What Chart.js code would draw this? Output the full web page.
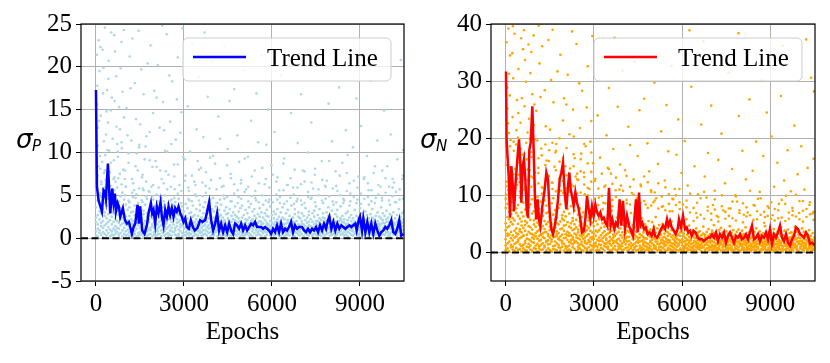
<!DOCTYPE html>
<html>
<head>
<meta charset="utf-8">
<script src="https://cdn.jsdelivr.net/npm/chart.js@4.4.1/dist/chart.umd.min.js"></script>
<style>
  html, body { margin: 0; padding: 0; background: #fff; }
  #wrap { position: relative; width: 830px; height: 363px; }
  canvas { position: absolute; top: 0; }
  #leftChart { left: 0; }
  #rightChart { left: 415px; }
</style>
</head>
<body>
<div id="wrap">
  <canvas id="leftChart" width="415" height="363"></canvas>
  <canvas id="rightChart" width="415" height="363"></canvas>
</div>
<script>
// tick labels
const epochTicks = [0, 3000, 6000, 9000];
const posTicks = [-5, 0, 5, 10, 15, 20, 25];
const negTicks = [0, 10, 20, 30, 40];

// sigma_P trend line (epoch, value)
const posTrendEpochs = [0, 33, 90, 203, 260, 305, 339, 408, 487, 555, 600, 646, 680, 737, 782, 828, 884, 918, 987, 1055,
  1123, 1168, 1225, 1282, 1338, 1418, 1463, 1508, 1577, 1656, 1736, 1792, 1872, 1917, 1962, 2019, 2076, 2133, 2201, 2247,
  2303, 2360, 2417, 2474, 2530, 2587, 2644, 2701, 2757, 2814, 2871, 2928, 2984, 3041, 3098, 3166, 3234, 3302, 3370, 3460,
  3551, 3631, 3722, 3790, 3858, 3926, 3994, 4062, 4130, 4198, 4266, 4334, 4403, 4471, 4539, 4607, 4675, 4743, 4811, 4879,
  4947, 5015, 5084, 5152, 5220, 5288, 5356, 5424, 5492, 5560, 5628, 5696, 5765, 5833, 5901, 5969, 6037, 6105, 6173, 6241,
  6309, 6377, 6446, 6514, 6582, 6650, 6718, 6786, 6854, 6922, 7025, 7093, 7161, 7229, 7297, 7366, 7434, 7502, 7570, 7638,
  7706, 7774, 7842, 7910, 7956, 8024, 8092, 8160, 8228, 8296, 8364, 8433, 8501, 8569, 8637, 8705, 8773, 8841, 8887, 8955,
  9000, 9068, 9114, 9182, 9250, 9318, 9386, 9454, 9522, 9590, 9658, 9726, 9795, 9863, 9931, 9999, 10067, 10135, 10203, 10271,
  10339, 10407, 10475];
const posTrendValues = [17.3, 6.0, 4.4, 3.1, 5.6, 5.4, 4.6, 8.7, 2.9, 5.8, 4.1, 5.2, 3.1, 4.1, 3.7, 2.5, 3.1, 3.5, 2.1, 1.7,
  1.9, 1.3, 0.5, 1.3, 1.7, 3.9, 1.7, 3.7, 0.9, 0.5, 1.5, 2.9, 4.1, 2.9, 3.3, 1.7, 3.7, 2.9, 4.2, 2.5,
  1.5, 3.3, 2.5, 3.7, 2.7, 3.5, 2.5, 3.5, 3.1, 3.7, 2.9, 2.5, 1.9, 2.3, 1.3, 1.1, 2.1, 1.3, 0.9, 1.2,
  2.1, 1.9, 2.1, 3.1, 4.2, 2.1, 0.9, 1.7, 2.9, 0.9, 1.7, 0.7, 1.5, 0.7, 1.7, 0.9, 0.5, 1.7, 1.5, 1.1,
  1.7, 0.9, 1.5, 0.9, 1.3, 1.7, 1.5, 1.9, 1.3, 1.3, 1.3, 1.1, 1.3, 1.1, 0.9, 0.5, 1.1, 0.7, 1.5, 0.7,
  1.7, 0.7, 1.1, 0.9, 1.3, 1.9, 0.7, 1.5, 1.1, 1.3, 1.3, 0.9, 0.7, 1.1, 0.7, 1.1, 0.9, 1.3, 0.7, 1.5,
  0.9, 1.7, 1.1, 2.1, 2.5, 1.1, 1.9, 0.9, 1.7, 1.1, 1.5, 1.3, 1.1, 1.3, 1.5, 1.3, 1.5, 1.7, 0.9, 2.1,
  2.5, 0.9, 2.3, 0.7, 1.9, 0.7, 1.7, 0.5, 1.7, 0.9, 0.3, 0.7, 0.9, 1.3, 1.1, 1.5, 2.1, 0.7, 0.5, 1.1,
  2.1, 0.3, 0.5];

// sigma_N trend line (epoch, value)
const negTrendEpochs = [10, 30, 101, 147, 192, 237, 282, 328, 396, 452, 498, 532, 577, 622, 668, 713, 758, 804, 849, 906,
  951, 997, 1042, 1087, 1133, 1178, 1246, 1325, 1382, 1439, 1496, 1552, 1609, 1666, 1722, 1779, 1836, 1892, 1949, 2006,
  2062, 2119, 2165, 2210, 2255, 2312, 2369, 2425, 2482, 2539, 2595, 2663, 2720, 2765, 2822, 2879, 2935, 2992, 3049, 3105,
  3162, 3219, 3276, 3332, 3389, 3457, 3513, 3570, 3626, 3695, 3751, 3808, 3876, 3933, 3989, 4057, 4125, 4193, 4262, 4330,
  4375, 4432, 4488, 4534, 4590, 4647, 4704, 4760, 4829, 4897, 4965, 5033, 5078, 5146, 5214, 5282, 5350, 5418, 5486, 5532,
  5588, 5645, 5713, 5781, 5849, 5894, 5963, 6031, 6099, 6155, 6212, 6269, 6325, 6393, 6461, 6530, 6598, 6666, 6734, 6802,
  6892, 6948, 7016, 7084, 7152, 7220, 7288, 7356, 7424, 7492, 7560, 7628, 7696, 7764, 7833, 7901, 7969, 8037, 8105, 8173,
  8241, 8309, 8377, 8445, 8513, 8581, 8649, 8717, 8785, 8853, 8921, 8989, 9057, 9125, 9193, 9261, 9329, 9397, 9465, 9534,
  9602, 9670, 9738, 9806, 9874, 9942, 10010, 10078, 10146, 10214, 10282, 10350, 10418, 10500];
const negTrendValues = [31.7, 19.8, 13.3, 6.1, 15.1, 12.2, 7.2, 11.6, 16.3, 19.8, 15.7, 8.7, 15.1, 16.3, 12.8, 7.5, 6.1, 18.0, 19.2, 25.6,
  18.0, 9.3, 5.8, 9.3, 5.8, 4.6, 8.1, 11.0, 14.0, 12.8, 7.0, 4.1, 3.2, 4.6, 6.4, 9.3, 12.8, 14.0, 15.7, 10.5,
  7.6, 11.6, 14.0, 11.0, 9.9, 8.1, 10.5, 8.7, 7.6, 5.8, 3.5, 3.8, 6.4, 9.9, 7.6, 5.8, 8.1, 6.4, 8.4, 7.0,
  6.4, 7.0, 5.8, 6.1, 5.2, 4.6, 11.3, 4.7, 5.8, 4.1, 5.2, 4.7, 9.3, 4.7, 9.0, 4.1, 6.4, 4.7, 3.8, 2.9,
  5.8, 9.3, 3.5, 10.5, 4.7, 5.2, 4.1, 4.4, 3.2, 3.5, 2.9, 4.1, 2.9, 2.6, 3.2, 4.1, 4.7, 4.1, 5.8, 4.7,
  5.5, 4.4, 3.8, 3.2, 4.1, 5.8, 4.4, 6.4, 4.1, 4.4, 3.5, 3.8, 2.9, 3.8, 3.5, 2.6, 2.3, 2.3, 2.0, 2.3,
  2.6, 2.6, 3.2, 2.6, 3.5, 2.0, 3.2, 2.6, 3.5, 1.7, 2.9, 3.5, 2.6, 1.7, 2.9, 2.6, 3.2, 2.3, 2.6, 3.2,
  2.3, 3.5, 4.7, 2.3, 2.6, 3.2, 2.0, 2.9, 2.6, 3.5, 2.3, 4.1, 1.5, 3.2, 2.6, 3.5, 4.7, 2.6, 2.0, 3.2,
  1.7, 1.2, 2.3, 2.9, 4.4, 4.1, 3.2, 2.9, 2.6, 3.5, 2.9, 1.5, 1.7, 1.3];

// sigma_P samples away from the band [epoch, value]
const posPointsHigh = [
  [25,21.4],[70,12.9],[45,17.8],[140,9.6],[95,23.1],[165,14.3],[20,7.2],[120,19.5],[60,10.8],[185,6.3],[35,15.6],[150,22.3],[80,8.4],[110,13.7],[10,11.9],
  [240,16.9],[215,8.9],[300,24.6],[270,11.3],[335,6.8],[255,19.9],[360,14.8],[225,22.0],[315,9.7],[380,17.3],[290,5.9],[345,12.1],
  [430,20.7],[470,7.7],[410,13.5],[520,24.0],[455,10.2],[545,16.4],[495,6.1],[425,18.6],[570,11.6],[505,14.9],[440,5.3],
  [610,9.1],[650,21.8],[700,13.0],[635,16.0],[760,7.0],[690,18.9],[725,11.0],[620,23.7],[790,15.3],[665,6.6],[745,10.1],
  [820,12.7],[870,22.9],[930,8.0],[905,17.1],[960,14.1],[840,19.8],[985,6.9],[885,10.5],[950,24.3],[815,7.5],
  [1040,15.2],[1110,8.8],[1150,21.2],[1210,11.4],[1270,6.4],[1330,18.1],[1390,9.9],[1455,24.2],[1510,13.3],[1570,7.1],[1625,16.8],[1690,10.7],[1760,20.4],[1830,12.4],[1890,6.0],[1950,14.6],
  [1075,12.0],[1180,17.5],[1240,23.3],[1300,5.6],[1365,13.9],[1425,7.9],[1545,19.7],[1660,9.2],[1720,11.9],[1800,5.5],[1860,22.5],[1925,8.3],[1985,17.2],[1480,10.9],[1595,5.8],
  [2030,9.0],[2110,20.2],[2170,12.9],[2235,6.9],[2290,15.9],[2350,10.2],[2410,23.8],[2470,7.4],[2530,13.6],[2600,18.3],[2660,8.6],[2720,11.5],[2790,21.1],[2850,6.2],[2910,14.7],[2975,9.5],
  [2065,16.4],[2140,5.9],[2260,24.8],[2380,7.8],[2500,19.0],[2570,11.0],[2690,5.7],[2755,16.2],[2880,12.3],[2945,24.5],[2320,12.6],
  [3050,7.3],[3130,15.4],[3210,10.1],[3280,22.7],[3350,6.6],[3430,12.7],[3510,18.8],[3580,8.2],[3660,11.8],[3740,6.1],[3810,16.5],[3890,9.4],[3970,20.6],[3170,5.5],[3470,9.0],[3700,24.0],[3920,6.8],
  [4060,8.7],[4170,14.2],[4290,6.0],[4380,22.4],[4490,10.4],[4600,7.0],[4710,17.4],[4820,12.0],[4940,6.4],[5060,19.6],[5180,9.5],[5290,13.7],[5410,7.9],[5530,11.2],[5640,21.3],[5750,6.3],[5870,15.0],[5980,8.5],
  [4230,11.6],[4550,16.0],[4880,8.9],[5120,5.7],[5470,16.9],[5810,10.9],
  [6090,12.4],[6190,7.1],[6310,19.0],[6420,9.3],[6540,6.2],[6650,14.6],[6770,8.0],[6880,11.1],[6990,16.8],[7110,6.6],[7230,10.0],[7340,13.5],[7460,7.4],[7580,20.9],[7700,9.0],
  [7810,6.1],[7930,15.7],[8050,11.3],[8170,7.8],[8290,17.6],[8400,8.8],[8520,12.6],[8640,6.4],[8760,10.6],[8880,16.3],
  [6250,5.6],[6720,5.9],[7050,7.9],[7400,5.8],[7870,6.7],[8230,5.5],[8580,9.7],[8950,7.2],
  [9040,13.1],[9130,6.9],[9240,9.6],[9360,18.4],[9470,7.6],[9590,11.4],[9700,6.0],[9820,14.9],[9930,8.4],[10050,12.1],[10160,6.5],[10270,9.2],[10390,20.8],[10470,10.3],
  [9290,5.6],[9760,7.9],[10110,5.9],[10440,6.9]
];

// sigma_P middle layer just above the band: [epoch, values...]
const posMid = [
  [30,6.8,9.4],[150,5.2,8.1],[270,7.6,4.9],[390,10.3,6.0],[510,4.6,8.8],[630,7.1,5.6],[750,9.5,4.3],[870,6.3,11.2],[990,5.0,7.9],
  [1110,4.4,9.9],[1230,6.9,5.3],[1350,8.4,4.7],[1470,5.8,10.6],[1590,7.4,4.2],[1710,4.9,6.6],[1830,9.1,5.4],[1950,6.2,4.5],
  [2070,5.1,8.3],[2190,7.9,4.8],[2310,4.3,6.4],[2430,10.1,5.7],[2550,6.0,4.4],[2670,4.7,7.2],[2790,8.6,5.2],[2910,5.5,4.1],
  [3030,6.7,9.2],[3150,4.6,5.9],[3270,7.3,4.3],[3390,5.1,6.2],[3510,4.4,8.0],[3630,6.5,4.9],[3750,5.3,7.7],[3870,4.2,5.8],[3990,9.6,4.7],
  [4110,5.7,4.1],[4230,4.5,7.0],[4350,6.1,5.0],[4470,4.8,8.5],[4590,7.5,4.3],[4710,5.2,6.3],[4830,4.1,5.6],[4950,6.8,4.6],
  [5070,5.4,9.3],[5190,4.3,6.0],[5310,7.2,4.9],[5430,4.7,5.5],[5550,6.4,4.2],[5670,5.0,8.2],[5790,4.4,6.9],[5910,5.9,4.5],
  [6030,4.2,7.4],[6150,6.6,5.1],[6270,4.8,4.1],[6390,5.6,8.7],[6510,4.3,6.2],[6630,7.0,4.7],[6750,5.1,4.0],[6870,4.6,5.9],[6990,6.3,4.4],
  [7110,4.1,7.8],[7230,5.4,4.8],[7350,4.7,6.5],[7470,8.1,4.2],[7590,5.0,5.7],[7710,4.4,6.8],[7830,6.0,4.6],[7950,4.9,9.0],
  [8070,5.8,4.3],[8190,4.2,6.1],[8310,7.3,5.0],[8430,4.6,4.1],[8550,5.5,7.6],[8670,4.3,5.2],[8790,6.7,4.8],[8910,4.5,5.9],
  [9030,5.2,4.0],[9150,7.1,4.6],[9270,4.8,6.4],[9390,5.6,4.3],[9510,4.1,8.4],[9630,6.2,5.1],[9750,4.7,4.4],[9870,5.3,7.0],
  [9990,4.4,6.0],[10110,6.9,4.9],[10230,4.2,5.4],[10350,5.7,4.5],[10470,4.6,7.3]
];

// sigma_P dense band near zero, one row per epoch column: [epoch, values...]
const posBand = [
  [0,0.3,1.9,0.8,3.6,2.4,6.1],[60,1.1,0.2,4.4,2.7,1.6,7.3],[120,0.6,2.2,3.1,0.9,5.2],[180,1.4,0.4,2.9,4.8,1.8,6.6],
  [240,0.1,3.4,1.2,2.0,0.7,5.7],[300,2.6,0.5,1.5,4.1,3.0,7.9],[360,0.9,1.7,0.3,3.8,2.3],[420,1.3,2.8,0.6,4.6,1.9,6.4],
  [480,0.2,1.0,3.3,2.1,5.5],[540,0.8,2.5,1.6,0.4,4.0,3.1],[600,1.9,0.3,2.9,1.1,4.7,6.9],[660,0.5,3.7,1.4,2.3,0.9],
  [720,2.0,0.7,1.2,3.2,5.9],[780,0.4,1.8,2.7,0.1,4.3,1.1],[840,1.5,0.6,3.5,2.2,4.9],[900,0.9,2.4,0.2,1.7,3.0,5.3],
  [960,1.2,0.5,2.8,4.5,1.8],[1020,0.3,1.6,3.9,0.8,2.5,6.0],[1080,2.1,1.0,0.4,3.3,1.5],[1140,0.7,2.6,1.3,4.2,0.2,3.6],
  [1200,1.7,0.4,2.2,3.0,1.0],[1260,0.9,3.1,0.3,1.6,4.8,2.0],[1320,0.5,1.4,2.7,0.8,3.8],[1380,1.8,0.2,1.1,3.4,2.4,5.1],
  [1440,0.6,2.9,1.5,0.3,4.1],[1500,1.2,0.7,3.6,2.1,1.9,0.4],[1560,2.3,1.0,0.5,4.4,1.6],[1620,0.2,1.7,2.8,0.9,3.2,5.6],
  [1680,1.4,0.6,2.0,3.9,1.1],[1740,0.8,2.5,0.3,1.3,4.6,2.9],[1800,1.9,0.4,3.1,1.0,2.2],[1860,0.5,1.2,2.6,4.0,0.9,3.5],
  [1920,1.6,0.2,2.3,1.4,4.9],[1980,0.7,3.0,1.8,0.4,2.7,1.2],[2040,2.2,0.9,0.3,3.7,1.5],[2100,0.4,1.6,2.9,1.1,4.3,0.8],
  [2160,1.3,0.5,2.4,3.3,1.9],[2220,0.9,2.1,0.2,4.7,1.5,3.0],[2280,1.7,0.6,3.6,2.5,1.0],[2340,0.3,1.4,2.0,0.8,3.9,5.0],
  [2400,2.4,1.1,0.5,3.2,1.7],[2460,0.6,2.8,1.3,0.2,4.1,2.2],[2520,1.5,0.4,2.6,3.5,0.9],[2580,0.8,1.9,0.3,2.3,4.5,1.2],
  [2640,2.0,0.7,1.6,3.8,2.9],[2700,0.4,1.2,3.0,0.9,2.5,4.2],[2760,1.8,0.3,2.2,1.4,3.4],[2820,0.5,2.7,1.0,4.6,1.9,0.2],
  [2880,1.3,0.8,3.3,2.1,1.6],[2940,0.2,1.5,2.4,0.6,3.7,2.8],[3000,1.1,0.4,2.0,3.1,1.7],[3060,0.7,2.6,0.3,1.3,4.0,1.9],
  [3120,1.6,0.9,2.3,0.5,3.5],[3180,0.3,1.8,2.9,1.1,0.6,4.4],[3240,2.1,0.5,1.4,3.0,1.0],[3300,0.8,1.2,0.2,2.5,3.8,1.7],
  [3360,1.4,0.6,2.7,1.9,0.3],[3420,0.4,2.2,1.0,3.4,1.6,4.9],[3480,1.9,0.8,0.3,2.6,1.2],[3540,0.6,1.5,3.2,0.9,2.0,3.9],
  [3600,1.2,0.3,2.4,1.7,0.7],[3660,0.9,2.9,1.4,0.4,3.6,2.2],[3720,1.6,0.5,2.1,1.0,4.2],[3780,0.3,1.3,2.8,0.8,1.9,3.3],
  [3840,2.3,0.6,1.1,3.0,1.5],[3900,0.7,1.8,0.2,2.6,4.5,1.2],[3960,1.4,0.9,3.4,2.0,0.4],[4020,0.5,2.4,1.2,0.3,3.1,1.8],
  [4080,1.7,0.7,2.2,3.7,1.0],[4140,0.2,1.5,2.9,0.9,1.3,4.1],[4200,1.1,0.4,2.5,1.8,3.3],[4260,0.8,2.0,0.3,1.4,3.9,2.7],
  [4320,1.9,0.6,1.2,2.4,0.9],[4380,0.4,1.6,3.2,0.7,2.1,4.6],[4440,1.3,0.2,2.8,1.5,3.6],[4500,0.6,2.3,1.0,0.4,2.9,1.7],
  [4560,2.0,0.8,1.5,3.4,0.3],[4620,0.3,1.1,2.6,1.9,0.6,4.3],[4680,1.5,0.5,2.2,3.0,1.2],[4740,0.9,2.7,0.4,1.6,3.7,2.1],
  [4800,1.8,0.3,1.3,2.5,0.8],[4860,0.5,1.9,3.1,1.0,2.3,4.8],[4920,1.2,0.7,2.0,0.2,3.5],[4980,0.8,2.4,1.4,3.8,1.7,0.4],
  [5040,1.6,0.3,2.7,1.1,0.9],[5100,0.4,1.3,2.2,3.3,1.8,0.6],[5160,2.1,0.9,0.5,2.9,1.4],[5220,0.6,1.7,3.6,1.0,0.2,2.4],
  [5280,1.3,0.4,2.0,1.5,4.0],[5340,0.2,2.2,1.1,3.1,0.8,1.9],[5400,1.7,0.6,2.6,1.3,3.4],[5460,0.9,1.5,0.3,2.3,4.4,1.0],
  [5520,1.4,0.5,2.8,1.8,0.7],[5580,0.4,2.0,1.2,3.5,2.5,0.9],[5640,1.9,0.8,1.6,0.3,3.0],[5700,0.6,1.3,2.4,1.0,3.9,1.7],
  [5760,1.1,0.2,2.1,2.9,0.8],[5820,0.7,1.8,0.4,3.3,1.5,2.6],[5880,1.6,0.9,2.5,1.2,4.2],[5940,0.3,1.4,2.0,0.6,3.7,1.0],
  [6000,1.2,0.5,2.7,1.8,0.8],[6060,0.8,2.3,1.1,0.3,3.1,1.6],[6120,1.5,0.4,1.9,2.8,1.0],[6180,0.5,1.2,3.4,0.9,2.2,4.5],
  [6240,1.8,0.7,1.4,2.5,0.2],[6300,0.3,2.0,1.0,3.0,1.6,0.8],[6360,1.3,0.6,2.4,1.7,3.6],[6420,0.9,1.6,0.2,2.2,1.1,4.0],
  [6480,1.7,0.4,2.9,1.3,0.7],[6540,0.4,1.1,2.1,3.3,1.8,0.6],[6600,1.4,0.8,0.3,2.6,1.5],[6660,0.6,2.2,1.2,3.8,0.9,2.0],
  [6720,1.9,0.5,1.6,2.4,1.0],[6780,0.2,1.4,2.8,0.7,1.8,3.4],[6840,1.1,0.6,2.0,1.3,4.3],[6900,0.8,2.5,0.4,1.6,3.0,1.2],
  [6960,1.5,0.3,2.3,1.0,0.7],[7020,0.5,1.7,2.9,1.2,2.0,3.9],[7080,1.2,0.9,0.2,2.6,1.6],[7140,0.7,2.1,1.4,0.5,3.5,1.0],
  [7200,1.8,0.4,1.1,2.4,0.8],[7260,0.3,1.5,3.1,1.9,0.6,2.7],[7320,1.4,0.7,2.2,1.0,4.6],[7380,0.9,1.9,0.4,2.9,1.3,0.2],
  [7440,1.6,0.5,2.5,1.2,3.2],[7500,0.4,1.2,2.0,0.8,1.7,3.7],[7560,2.0,0.3,1.5,2.7,1.0],[7620,0.6,1.8,1.1,3.4,0.4,2.3],
  [7680,1.3,0.8,2.1,1.6,0.2],[7740,0.7,2.4,1.0,0.5,2.9,4.1],[7800,1.7,0.3,1.4,2.3,1.1],[7860,0.5,1.6,3.0,0.9,2.0,1.3],
  [7920,1.2,0.6,2.6,1.8,3.6],[7980,0.3,2.0,1.3,0.7,2.4,1.0],[8040,1.5,0.9,0.4,3.2,1.8],[8100,0.8,1.4,2.2,1.1,0.5,3.9],
  [8160,1.9,0.2,1.7,2.8,1.0],[8220,0.6,1.1,2.5,0.4,1.5,3.3],[8280,1.4,0.7,2.0,1.2,0.9],[8340,0.4,2.3,1.6,3.7,0.8,2.1],
  [8400,1.1,0.5,1.3,2.6,1.9],[8460,0.7,1.8,0.3,2.2,4.4,1.0],[8520,1.6,0.9,2.9,1.4,0.4],[8580,0.2,1.2,2.1,0.7,1.7,3.1],
  [8640,1.3,0.6,2.4,1.0,3.8],[8700,0.9,2.0,0.4,1.5,2.7,1.2],[8760,1.7,0.3,1.1,2.3,0.8],[8820,0.5,1.4,3.3,1.9,0.6,2.0],
  [8880,1.2,0.8,2.6,1.3,4.1],[8940,0.4,1.9,1.0,0.3,2.4,1.6],[9000,1.5,0.7,2.2,1.1,3.5],[9060,0.8,1.3,0.5,2.9,1.8,0.2],
  [9120,1.9,0.4,1.6,2.4,1.0],[9180,0.3,2.1,1.2,3.1,0.7,1.5],[9240,1.4,0.9,2.7,1.7,0.5],[9300,0.6,1.6,0.2,2.3,3.9,1.1],
  [9360,1.1,0.5,1.9,2.8,1.4],[9420,0.7,2.4,1.3,0.4,3.4,2.0],[9480,1.8,0.3,1.0,2.2,0.9],[9540,0.4,1.5,2.6,1.2,0.6,4.7],
  [9600,1.3,0.8,2.0,1.6,3.0],[9660,0.2,1.7,1.1,2.5,0.9,1.4],[9720,1.6,0.6,2.3,0.3,3.6],[9780,0.9,1.2,2.9,1.8,0.5,2.1],
  [9840,1.4,0.4,1.7,2.6,1.0],[9900,0.6,2.2,1.3,0.8,3.2,1.9],[9960,1.9,0.3,1.5,2.4,0.7],[10020,0.5,1.1,2.8,1.6,0.2,3.9],
  [10080,1.2,0.7,2.0,1.4,2.6],[10140,0.8,1.8,0.4,3.0,1.1,1.5],[10200,1.6,0.5,2.3,1.0,4.2],[10260,0.3,1.3,2.7,0.9,1.9,0.6],
  [10320,1.1,0.8,2.1,3.4,1.5],[10380,0.7,1.6,0.3,2.5,1.2,2.0],[10440,1.4,0.5,2.9,1.8,0.9],[10490,0.6,2.2,1.0,3.1]
];

// sigma_N samples away from the band [epoch, value]
const negPointsHigh = [
  [30,36.8],[75,22.6],[50,28.9],[130,14.1],[95,39.2],[165,19.7],[20,11.6],[115,31.3],[60,25.2],[185,12.8],[40,17.4],[150,34.5],[85,10.9],[110,20.9],[10,15.3],[140,27.5],
  [235,23.7],[210,13.4],[300,38.3],[275,17.8],[340,11.2],[255,30.5],[365,21.4],[225,34.9],[315,14.6],[385,26.7],[290,10.5],[350,18.9],[245,39.6],
  [435,32.1],[470,12.3],[415,20.1],[525,37.5],[455,15.7],[550,27.0],[495,10.7],[430,24.4],[575,17.1],[505,22.7],[445,13.6],[590,35.6],
  [615,15.9],[655,33.7],[700,19.2],[640,25.6],[765,12.5],[690,29.9],[725,16.3],[620,38.9],[790,23.4],[665,11.4],[745,21.0],[775,36.4],
  [820,19.9],[870,35.1],[930,13.1],[905,27.7],[960,22.3],[840,31.4],[985,11.8],[885,16.7],[950,38.0],[815,14.4],[975,25.9],
  [1040,24.8],[1110,14.8],[1150,33.1],[1210,18.2],[1270,11.3],[1330,28.4],[1390,16.1],[1455,37.2],[1510,21.5],[1570,12.2],[1625,26.3],[1690,17.5],[1760,31.7],[1830,20.0],[1890,10.8],[1950,23.1],
  [1075,19.6],[1180,27.2],[1240,36.1],[1300,10.3],[1365,22.1],[1425,13.5],[1545,30.2],[1660,15.0],[1720,19.0],[1800,11.0],[1860,34.6],[1925,13.9],[1985,27.0],[1480,17.9],[1595,39.0],[1120,39.7],
  [2030,15.1],[2110,31.1],[2170,20.7],[2235,11.9],[2290,25.0],[2350,16.5],[2410,36.5],[2470,12.7],[2530,21.8],[2600,28.3],[2660,14.0],[2720,18.6],[2790,32.6],[2850,11.1],[2910,23.0],[2975,15.6],
  [2065,25.9],[2140,10.6],[2260,38.7],[2380,13.3],[2500,29.6],[2570,17.3],[2690,10.2],[2755,25.4],[2880,19.4],[2945,37.9],[2320,20.3],
  [3050,12.9],[3130,24.0],[3210,16.6],[3280,34.2],[3350,11.5],[3430,20.5],[3510,28.8],[3580,13.8],[3660,18.1],[3740,10.9],[3810,25.5],[3890,15.4],[3970,31.8],
  [3170,9.6],[3470,14.8],[3700,37.6],[3920,11.7],[3320,8.7],[3630,9.2],
  [4060,14.4],[4170,22.0],[4290,10.4],[4380,33.4],[4490,16.9],[4600,11.6],[4710,26.9],[4820,19.1],[4940,10.9],[5060,29.7],[5180,15.5],[5290,21.2],[5410,12.6],[5530,17.7],
  [5640,32.7],[5750,11.1],[5870,23.3],[5980,13.9],[4230,18.8],[4550,24.9],[4880,14.2],[5120,9.5],[5470,25.8],[5810,17.1],
  [4120,8.6],[4450,9.1],[4760,8.4],[5020,8.8],[5350,8.1],[5700,9.3],[5920,7.6],[5580,7.2],
  [6090,19.5],[6190,11.7],[6310,29.0],[6420,15.1],[6540,10.2],[6650,22.4],[6770,13.3],[6880,17.4],[6990,25.7],[7110,10.8],[7230,16.2],[7340,20.8],[7460,12.1],[7580,31.5],[7700,14.6],
  [7810,10.0],[7930,23.9],[8050,17.8],[8170,12.8],[8290,26.8],[8400,14.3],[8520,19.4],[8640,10.6],[8760,16.9],[8880,24.5],
  [6250,38.9],[6720,37.0],[7050,8.3],[7400,7.4],[7870,8.9],[8230,7.0],[8580,9.4],[8950,7.8],[6150,7.9],[6480,6.9],[6830,9.6],[7180,6.4],[7650,7.7],[8100,6.6],[8470,8.2],[8820,6.2],[7920,38.4],[8700,30.1],
  [9040,20.3],[9130,11.5],[9240,15.7],[9360,27.4],[9470,12.6],[9590,17.9],[9700,10.7],[9820,22.2],[9930,13.7],[10050,18.6],[10160,11.0],[10270,14.8],[10390,30.6],[10470,16.4],
  [9290,8.5],[9760,7.3],[10110,9.0],[10440,6.8],[9080,6.5],[9530,9.9],[9980,6.9],[10330,8.3],[9420,36.2],[10220,37.3],[10480,28.2]
];

// sigma_N middle layer just above the band: [epoch, values...]
const negMid = [
  [30,12.4,16.8,10.1],[150,14.9,11.3,18.6],[270,10.6,13.7,19.4],[390,16.2,11.8,12.9],[510,13.1,18.1,10.4],[630,11.0,15.4,17.3],
  [750,12.7,10.2,14.5],[870,17.6,11.5,13.3],[990,10.8,14.0,19.8],[1110,13.9,12.1,16.5],[1230,11.4,17.0,10.3],[1350,15.3,12.6,18.9],
  [1470,10.1,13.4,16.0],[1590,12.2,19.2,11.1],[1710,14.4,10.7,17.8],[1830,11.7,15.9,13.0],[1950,16.6,10.4,12.5],[2070,13.5,11.2,18.3],
  [2190,10.9,14.7,12.0],[2310,15.1,11.6,17.2],[2430,12.8,10.3,13.8],[2550,10.5,16.3,14.2],[2670,13.2,11.9,19.0],[2790,11.3,15.6,10.0],[2910,14.1,12.4,17.5],
  [3030,9.4,12.5],[3150,11.2,8.3],[3270,13.8,9.9],[3390,8.6,11.7],[3510,10.3,14.6],[3630,12.0,8.1],[3750,9.7,13.1],[3870,7.9,11.0],
  [3990,10.8,8.9],[4110,13.4,9.2],[4230,8.4,11.5],[4350,10.1,12.8],[4470,7.6,9.5],[4590,11.9,8.7],[4710,9.0,13.3],[4830,12.3,7.8],
  [4950,8.2,10.6],[5070,10.5,9.1],[5190,7.7,12.1],[5310,9.8,8.0],[5430,11.4,7.4],[5550,8.5,10.2],[5670,7.2,9.4],[5790,10.0,8.3],[5910,8.8,11.1],
  [6030,6.3,8.4],[6150,9.1,5.8],[6270,7.0,10.3],[6390,5.5,7.8],[6510,8.7,6.1],[6630,6.6,9.5],[6750,10.6,5.9],[6870,7.3,8.0],
  [6990,5.7,6.8],[7110,9.3,7.5],[7230,6.2,5.4],[7350,8.1,10.0],[7470,5.9,7.1],[7590,7.7,6.4],[7710,6.0,8.9],[7830,9.8,5.6],
  [7950,6.9,7.4],[8070,5.3,8.6],[8190,7.9,6.3],[8310,6.5,10.8],[8430,8.3,5.7],[8550,5.8,7.2],[8670,9.5,6.6],[8790,7.1,5.2],
  [8910,6.4,8.1],[9030,8.8,5.9],[9150,5.6,7.6],[9270,7.4,6.0],[9390,6.1,9.2],[9510,8.5,5.5],[9630,5.9,7.0],[9750,7.8,6.5],
  [9870,6.3,10.1],[9990,9.0,5.8],[10110,5.4,7.3],[10230,7.6,6.2],[10350,6.7,8.8],[10470,5.7,7.1]
];

// sigma_N dense band near zero, one row per epoch column: [epoch, values...]
const negBand = [
  [0,0.4,2.3,5.1,7.8,1.2,3.9,9.4],[60,1.6,4.4,0.7,6.2,2.9,8.5,3.3],[120,0.2,3.1,5.8,1.9,9.9,4.6,7.1],[180,2.5,0.9,6.7,3.6,1.3,5.3,8.8],
  [240,1.0,4.9,2.1,7.4,0.5,3.0,6.0],[300,3.8,1.5,8.1,0.3,5.6,2.6,9.2],[360,0.8,2.8,4.2,6.9,1.7,3.4,7.7],[420,1.9,5.0,0.4,3.2,8.3,2.2,6.4],
  [480,0.6,3.7,1.4,5.9,2.5,9.6,4.1],[540,2.7,0.2,4.7,1.1,7.0,3.5,5.4],[600,1.3,6.3,2.9,0.7,4.3,8.7,3.0],[660,0.4,2.0,5.5,3.8,1.6,7.5,4.8],
  [720,3.1,1.0,6.6,0.3,2.4,9.0,5.2],[780,0.9,4.6,2.3,7.9,1.5,3.6,6.1],[840,2.1,0.5,3.3,5.7,8.4,1.2,4.4],[900,0.3,2.6,6.8,1.8,4.0,9.3,3.2],
  [960,1.7,4.9,0.8,3.0,7.2,2.4,5.6],[1020,0.6,3.4,1.2,6.0,2.8,8.0,4.5],[1080,2.4,0.2,5.2,1.5,3.7,6.7,9.7],[1140,1.1,3.9,0.7,4.8,2.0,7.6,2.9],
  [1200,0.4,2.2,5.9,3.1,1.3,8.9,4.2],[1260,3.3,1.6,0.5,6.4,2.7,4.6,7.3],[1320,0.9,4.1,2.5,1.2,5.5,3.5,9.1],[1380,2.0,0.3,3.6,6.9,1.8,4.9,8.2],
  [1440,0.7,2.9,5.3,1.4,3.2,7.0,2.1],[1500,1.5,4.5,0.4,2.6,6.2,3.9,5.7],[1560,0.2,3.0,1.9,5.0,2.3,8.6,4.0],[1620,2.8,1.1,4.3,0.6,3.5,6.6,9.5],
  [1680,1.2,0.5,2.7,5.8,4.4,1.9,7.4],[1740,0.4,3.7,1.6,2.9,6.1,3.2,5.1],[1800,2.3,0.9,4.9,1.3,3.4,7.8,2.5],[1860,0.8,2.1,0.3,5.4,2.8,4.1,8.4],
  [1920,1.6,4.2,1.0,3.1,6.5,2.0,5.9],[1980,0.3,2.5,5.6,1.5,3.8,7.1,4.7],[2040,2.6,0.7,3.2,1.1,4.8,6.3,9.0],[2100,1.0,3.6,0.4,2.2,5.3,3.0,7.6],
  [2160,0.5,1.8,4.5,2.9,1.2,6.8,3.4],[2220,2.2,0.3,3.0,5.1,1.7,4.3,8.1],[2280,0.9,2.7,1.4,3.9,6.0,2.3,5.5],[2340,1.7,0.6,4.1,2.0,3.3,7.3,4.9],
  [2400,0.2,3.1,1.9,5.7,2.6,4.4,9.3],[2460,2.5,1.0,0.5,3.5,6.6,1.6,4.0],[2520,0.7,2.3,4.7,1.3,3.0,5.4,7.7],[2580,1.4,0.4,2.8,6.2,1.9,3.7,5.0],
  [2640,0.3,3.3,1.1,4.2,2.4,7.0,3.1],[2700,2.0,0.8,5.0,1.7,3.6,2.6,6.5],[2760,0.6,1.5,3.9,0.3,2.9,4.6,8.8],[2820,1.8,4.3,2.2,0.9,5.6,3.2,6.1],
  [2880,0.4,2.6,1.3,3.8,1.9,4.9,7.4],[2940,2.3,0.5,3.5,1.1,6.3,2.7,5.2],
  [3000,0.9,2.4,4.6,1.5,3.3,6.8],[3060,1.7,0.3,2.9,5.5,3.8,1.2],[3120,0.5,3.6,1.0,2.2,4.9,7.1],[3180,2.6,1.4,0.4,3.9,5.8,2.0],
  [3240,0.8,2.1,4.3,1.3,3.0,6.2],[3300,1.9,0.6,3.4,2.5,5.1,7.6],[3360,0.3,2.8,1.6,4.5,1.1,3.7],[3420,2.2,0.9,3.1,5.9,2.4,1.5],
  [3480,0.6,1.8,4.0,1.0,6.5,3.3],[3540,1.5,3.5,0.3,2.7,4.7,2.0],[3600,0.4,2.3,1.2,3.8,5.4,7.3],[3660,2.0,0.7,4.4,1.6,3.1,2.6],
  [3720,1.1,2.9,0.5,5.0,1.9,3.9],[3780,0.3,1.7,3.3,2.2,6.1,4.6],[3840,2.4,1.0,0.6,3.6,1.4,5.3],[3900,0.7,3.0,2.0,4.2,1.2,7.0],
  [3960,1.6,0.4,2.6,1.1,3.5,4.9],[4020,0.5,2.2,4.8,1.8,3.0,6.4],[4080,2.1,0.8,1.4,3.4,2.5,5.6],[4140,0.3,1.9,3.8,0.9,4.5,2.7],
  [4200,1.3,2.7,0.5,2.0,5.2,3.6],[4260,0.8,3.3,1.6,4.1,1.0,6.9],[4320,2.3,0.4,2.9,1.3,3.7,4.8],[4380,0.6,1.5,4.4,2.4,0.9,3.1],
  [4440,1.8,3.6,1.1,0.3,2.8,5.7],[4500,0.4,2.5,1.7,3.9,2.1,4.6],[4560,1.2,0.7,3.2,1.9,5.0,2.6],[4620,0.9,2.0,0.4,4.3,3.0,6.0],
  [4680,2.7,1.3,2.2,0.6,3.5,1.7],[4740,0.3,1.8,3.8,2.5,1.1,4.9],[4800,1.6,0.5,2.4,3.3,4.4,1.0],[4860,0.8,2.9,1.4,0.3,3.7,5.5],
  [4920,2.0,1.1,0.6,2.7,4.0,1.8],[4980,0.4,1.6,3.1,2.2,5.3,3.4],[5040,1.3,0.7,2.5,1.2,3.9,4.5],[5100,0.6,2.3,1.0,3.4,1.9,6.2],
  [5160,1.9,0.3,2.8,1.5,4.2,2.4],[5220,0.5,1.4,3.6,0.9,2.6,4.8],[5280,2.2,1.0,0.4,3.1,1.7,3.8],[5340,0.8,2.6,1.6,4.0,2.1,5.0],
  [5400,1.4,0.5,3.3,1.1,2.7,1.9],[5460,0.3,1.9,2.4,3.7,1.3,4.4],[5520,1.7,0.8,0.4,2.9,3.5,2.2],[5580,0.6,2.1,1.2,4.6,1.8,3.2],
  [5640,1.1,0.4,2.7,1.6,3.9,5.4],[5700,0.9,1.5,3.0,0.3,2.3,4.1],[5760,2.0,0.6,1.3,2.6,3.4,1.8],[5820,0.4,2.4,1.0,3.7,1.7,2.9],
  [5880,1.5,0.3,2.2,1.2,4.3,3.1],[5940,0.7,1.8,2.9,0.5,3.5,2.0],
  [6000,1.2,0.4,2.3,3.6,1.7,4.4],[6060,0.6,1.9,1.0,2.8,3.3,0.3],[6120,1.5,0.8,2.5,1.2,4.0,2.0],[6180,0.3,1.4,3.1,2.2,0.7,3.8],
  [6240,2.0,0.5,1.7,2.7,1.1,4.7],[6300,0.9,2.4,0.4,1.5,3.4,2.1],[6360,1.6,0.7,2.9,1.0,3.9,0.3],[6420,0.4,1.2,2.0,3.2,1.8,2.6],
  [6480,1.9,0.3,1.4,2.5,0.9,4.2],[6540,0.7,2.2,1.1,3.5,1.6,2.9],[6600,1.3,0.5,2.6,0.9,2.0,3.7],[6660,0.2,1.7,3.0,1.3,2.4,0.8],
  [6720,1.8,0.9,2.1,3.3,1.0,4.5],[6780,0.5,1.3,0.3,2.7,1.9,3.1],[6840,1.4,2.5,0.7,1.6,3.6,2.2],[6900,0.8,0.3,1.9,2.9,1.2,4.1],
  [6960,1.7,1.0,2.4,0.5,3.2,2.0],[7020,0.4,2.0,1.3,3.8,0.9,2.6],[7080,1.1,0.6,2.7,1.8,3.4,4.8],[7140,0.3,1.5,0.9,2.3,1.2,3.0],
  [7200,2.2,0.7,1.6,3.1,0.4,2.5],[7260,0.6,1.8,2.9,1.0,3.9,1.4],[7320,1.4,0.3,2.1,1.7,2.8,4.3],[7380,0.9,2.6,0.5,1.3,3.5,2.0],
  [7440,1.6,1.1,2.3,0.4,3.0,1.9],[7500,0.5,1.9,0.8,2.7,1.4,3.7],[7560,1.2,0.3,2.5,1.8,3.3,0.7],[7620,0.7,2.1,1.3,3.0,2.2,4.6],
  [7680,1.8,0.6,1.0,2.4,0.3,3.4],[7740,0.4,1.4,2.8,1.7,2.0,3.9],[7800,1.3,0.8,2.2,0.5,3.1,1.6],[7860,0.6,2.4,1.1,3.6,1.9,2.7],
  [7920,1.9,0.4,1.5,2.6,0.9,4.0],[7980,0.3,1.2,2.0,3.3,1.6,2.4],[8040,1.5,0.7,2.9,1.1,3.8,0.5],[8100,0.8,1.9,0.4,2.3,1.4,3.2],
  [8160,1.7,0.5,2.6,1.3,2.0,4.4],[8220,0.4,1.6,1.0,3.0,2.3,0.8],[8280,1.2,2.2,0.6,1.8,3.5,2.7],[8340,0.7,0.3,1.4,2.5,1.1,3.9],
  [8400,2.0,1.0,0.5,2.8,1.6,3.3],[8460,0.5,1.7,2.3,1.2,3.6,0.9],[8520,1.4,0.4,1.9,2.6,1.0,4.2],[8580,0.9,2.1,0.7,3.2,1.5,2.4],
  [8640,1.6,0.3,2.4,1.3,2.9,3.7],[8700,0.3,1.2,1.8,0.6,2.2,3.1],[8760,1.3,2.5,0.9,1.7,3.4,0.5],[8820,0.6,1.5,2.8,1.0,2.0,4.6],
  [8880,1.9,0.4,1.3,2.3,3.0,1.6],[8940,0.5,2.0,0.8,3.5,1.4,2.6],[9000,1.1,0.6,2.4,1.7,3.8,0.3],[9060,0.4,1.8,1.2,2.7,2.1,3.3],
  [9120,1.6,0.9,0.3,2.0,1.3,4.1],[9180,0.7,2.3,1.5,3.1,0.5,2.5],[9240,1.4,0.3,2.6,1.0,1.9,3.6],[9300,0.8,1.7,0.6,2.2,3.3,1.2],
  [9360,1.9,0.5,1.3,2.9,1.6,4.4],[9420,0.3,1.1,2.4,0.8,3.0,2.0],[9480,1.2,2.0,0.5,1.6,2.6,3.8],[9540,0.6,1.4,2.9,1.1,0.3,3.2],
  [9600,1.7,0.7,1.9,2.5,1.2,4.0],[9660,0.4,2.2,1.0,3.4,1.8,2.6],[9720,1.3,0.4,2.7,1.5,0.8,3.5],[9780,0.8,1.6,0.3,2.1,3.0,1.3],
  [9840,1.5,0.9,2.3,1.2,2.8,4.5],[9900,0.5,1.9,1.1,3.6,0.7,2.4],[9960,1.8,0.3,1.5,2.6,1.9,3.1],[10020,0.7,2.5,0.9,1.4,3.3,2.0],
  [10080,1.2,0.5,2.0,3.0,1.6,4.2],[10140,0.3,1.7,1.2,2.4,0.8,3.6],[10200,1.6,0.8,2.8,1.3,2.2,1.0],[10260,0.6,2.1,0.4,1.9,3.2,2.7],
  [10320,1.4,1.0,2.5,0.7,1.6,3.9],[10380,0.9,0.3,1.8,2.9,1.2,2.3],[10440,1.7,0.6,2.2,1.1,3.4,0.4],[10500,0.5,1.4,2.6,1.0,2.0]
];

const serifFamily = 'Liberation Serif';
Chart.defaults.font.family = serifFamily;
Chart.defaults.font.size = 25;

// frame, legend box and the sigma axis label
const panelDecor = {
    id: 'panelDecor',
    afterDatasetsDraw(chart) {
        const { ctx, chartArea: a } = chart;
        ctx.save();
        ctx.strokeStyle = '#000';
        ctx.lineWidth = 1.2;
        ctx.strokeRect(a.left, a.top, a.right - a.left, a.bottom - a.top);
        ctx.restore();
    },
    afterDraw(chart, args, opts) {
        const { ctx, chartArea: a } = chart;
        const trend = chart.data.datasets[0];
        ctx.save();
        // legend
        const bw = 208, bh = 43;
        const bx = a.right - 13 - bw, by = a.top + 14;
        ctx.beginPath();
        ctx.roundRect(bx, by, bw, bh, 5);
        ctx.fillStyle = 'rgba(255,255,255,0.8)';
        ctx.fill();
        ctx.strokeStyle = '#cccccc';
        ctx.lineWidth = 1;
        ctx.stroke();
        ctx.beginPath();
        ctx.moveTo(bx + 10, by + 19);
        ctx.lineTo(bx + 63, by + 19);
        ctx.strokeStyle = trend.borderColor;
        ctx.lineWidth = 2.5;
        ctx.stroke();
        ctx.fillStyle = '#000';
        ctx.font = '25px "' + serifFamily + '"';
        ctx.textBaseline = 'alphabetic';
        ctx.fillText(trend.label, bx + 84, by + 28);
        // y label
        ctx.font = 'italic 26px "DejaVu Sans"';
        ctx.fillText(opts.symbol, opts.labelX, opts.labelY);
        ctx.font = 'italic 15px "DejaVu Sans"';
        ctx.fillText(opts.sub, opts.labelX + 16, opts.labelY + 3);
        ctx.restore();
    }
};

function toPoints(xs, ys) {
    return xs.map((x, i) => ({ x: x, y: ys[i] }));
}

function pairsToPoints(pairs) {
    return pairs.map(p => ({ x: p[0], y: p[1] }));
}

function rowsToPoints(rows) {
    const out = [];
    rows.forEach(row => {
        for (let i = 1; i < row.length; i++) out.push({ x: row[0], y: row[i] });
    });
    return out;
}

function buildPanel(canvasId, setup) {
    const ctx = document.getElementById(canvasId).getContext('2d');
    return new Chart(ctx, {
        type: 'scatter',
        data: {
            datasets: [
                {
                    label: 'Trend Line', type: 'line',
                    data: toPoints(setup.trendX, setup.trendY),
                    borderColor: setup.lineColor, borderWidth: 2.5,
                    pointRadius: 0, tension: 0, order: 0
                },
                {
                    label: 'zero', type: 'line',
                    data: [{ x: setup.xMin, y: 0 }, { x: setup.xMax, y: 0 }],
                    borderColor: '#000', borderWidth: 2, borderDash: [7, 3.5],
                    pointRadius: 0, order: 1
                },
                {
                    label: 'samples',
                    data: pairsToPoints(setup.high).concat(rowsToPoints(setup.mid)),
                    backgroundColor: setup.dotColor, borderWidth: 0, pointRadius: 1.3, order: 2
                },
                {
                    label: 'band', data: rowsToPoints(setup.band),
                    backgroundColor: setup.dotColor, borderWidth: 0, pointRadius: 1.4, order: 3
                }
            ]
        },
        options: {
            responsive: false,
            animation: false,
            events: [],
            layout: { padding: { top: 24, right: setup.padRight, left: 0, bottom: 0 } },
            plugins: {
                legend: { display: false },
                tooltip: { enabled: false },
                panelDecor: { symbol: 'σ', sub: setup.sub, labelX: setup.labelX, labelY: setup.labelY }
            },
            scales: {
                x: {
                    type: 'linear', min: setup.xMin, max: setup.xMax,
                    afterBuildTicks: s => { s.ticks = epochTicks.map(v => ({ value: v })); },
                    afterFit: s => { s.height = 82; },
                    ticks: {
                        font: { family: serifFamily, size: 25 }, color: '#000', padding: 3, maxRotation: 0,
                        callback: v => String(v)
                    },
                    grid: { color: '#b0b0b0', lineWidth: 1, tickLength: 5, tickColor: '#000' },
                    border: { display: false },
                    title: {
                        display: true, text: 'Epochs', font: { family: serifFamily, size: 25 }, color: '#000',
                        padding: { top: 0, bottom: 16 }
                    }
                },
                y: {
                    type: 'linear', min: setup.yMin, max: setup.yMax,
                    afterBuildTicks: s => { s.ticks = setup.yTicks.map(v => ({ value: v })); },
                    afterFit: s => { s.width = setup.axisWidth; },
                    ticks: {
                        font: { family: serifFamily, size: 25 }, color: '#000', padding: 4,
                        callback: v => String(v)
                    },
                    grid: { color: '#b0b0b0', lineWidth: 1, tickLength: 5, tickColor: '#000' },
                    border: { display: false }
                }
            }
        },
        plugins: [panelDecor]
    });
}

buildPanel('leftChart', {
    trendX: posTrendEpochs, trendY: posTrendValues, high: posPointsHigh, mid: posMid, band: posBand,
    lineColor: '#0000ff', dotColor: '#add8e6',
    xMin: -510, xMax: 10500, yMin: -5, yMax: 25, yTicks: posTicks,
    axisWidth: 81, padRight: 11, sub: 'P', labelX: 16, labelY: 148
});

buildPanel('rightChart', {
    trendX: negTrendEpochs, trendY: negTrendValues, high: negPointsHigh, mid: negMid, band: negBand,
    lineColor: '#ff0000', dotColor: '#ffa500',
    xMin: -500, xMax: 10520, yMin: -5, yMax: 40, yTicks: negTicks,
    axisWidth: 76, padRight: 15, sub: 'N', labelX: 5, labelY: 148
});
</script>
</body>
</html>
